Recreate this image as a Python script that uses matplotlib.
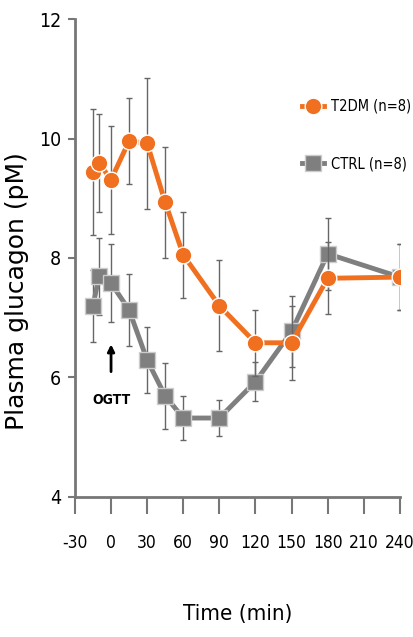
import numpy as np
import matplotlib.pyplot as plt

# time points (min) relative to OGTT
time = [-15, -10, 0, 15, 30, 45, 60, 90, 120, 150, 180, 240]
t2dm_mean = [9.44, 9.59, 9.31, 9.96, 9.92, 8.93, 8.05, 7.20, 6.58, 6.58, 7.66, 7.68]
t2dm_sem = [1.05, 0.82, 0.90, 0.72, 1.10, 0.93, 0.72, 0.76, 0.55, 0.62, 0.60, 0.55]
ctrl_mean = [7.20, 7.69, 7.58, 7.13, 6.29, 5.69, 5.32, 5.32, 5.93, 6.77, 8.07, 7.68]
ctrl_sem = [0.60, 0.65, 0.66, 0.60, 0.55, 0.55, 0.37, 0.30, 0.32, 0.60, 0.60, 0.55]

xticks = [-30, 0, 30, 60, 90, 120, 150, 180, 210, 240]
yticks = [4, 6, 8, 10, 12]

orange = '#F07020'
gray = '#7F7F7F'
axis_gray = '#777777'
narrow = dict(family='DejaVu Sans', stretch='condensed')

fig = plt.figure(figsize=(4.14, 6.37), dpi=100)
ax = fig.add_axes([0.181, 0.22, 0.785, 0.75])

ax.errorbar(time, ctrl_mean, yerr=ctrl_sem, color=gray, lw=3.5, marker='s', ms=11,
            mfc=gray, mec='#cccccc', mew=1, ecolor='#666666', elinewidth=1,
            capsize=2.5, capthick=1, label='CTRL (n=8)', zorder=2)
ax.errorbar(time, t2dm_mean, yerr=t2dm_sem, color=orange, lw=3.5, marker='o', ms=12,
            mfc=orange, mec='white', mew=1, ecolor='#666666', elinewidth=1,
            capsize=2.5, capthick=1, label='T2DM (n=8)', zorder=3)

ax.set_xlim(-30, 240)
ax.set_ylim(4, 12)
ax.set_xticks(xticks)
ax.set_yticks(yticks)
ax.set_xticklabels([str(v) for v in xticks], fontsize=12.5, **narrow)
ax.set_yticklabels([str(v) for v in yticks], fontsize=14, **narrow)
ax.tick_params(axis='x', direction='out', length=12, width=1.5, color=axis_gray, pad=15)
ax.tick_params(axis='y', direction='out', length=5, width=1.5, color=axis_gray, pad=5)

for s in ['top', 'right']:
    ax.spines[s].set_visible(False)
for s in ['left', 'bottom']:
    ax.spines[s].set_color(axis_gray)
    ax.spines[s].set_linewidth(2)

ax.set_xlabel('Time (min)', fontsize=16, **narrow)
ax.xaxis.set_label_coords(0.5, -0.225)
ax.set_ylabel('Plasma glucagon (pM)', fontsize=18)
ax.yaxis.set_label_coords(-0.14, 0.43)

ax.annotate('', xy=(0, 6.6), xytext=(0, 6.05),
            arrowprops=dict(arrowstyle='-|>', color='black', lw=2, mutation_scale=10))
ax.text(0, 5.62, 'OGTT', ha='center', va='center', fontsize=10, fontweight='bold', **narrow)

handles, labels = ax.get_legend_handles_labels()
ax.legend(handles[::-1], labels[::-1], loc='upper left', bbox_to_anchor=(0.68, 0.845),
          frameon=False, prop=dict(size=10.5, **narrow), handlelength=1.5,
          labelspacing=2.9, handletextpad=0.5, borderaxespad=0)

fig.savefig('out.png', dpi=100)
